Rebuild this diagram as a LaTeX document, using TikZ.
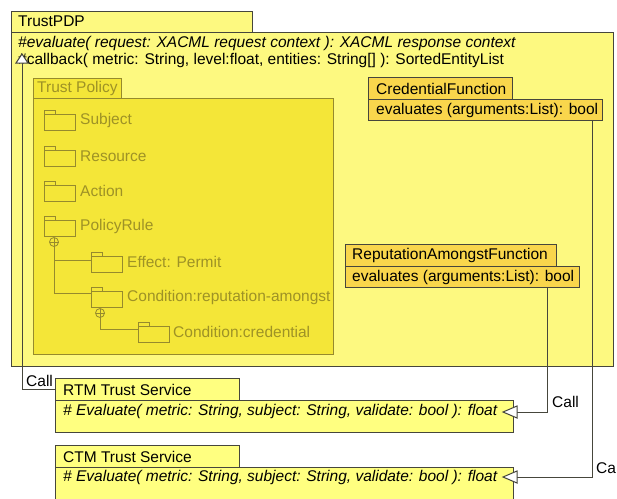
\documentclass[tikz,border=0pt]{standalone}
\usepackage{fontspec}
\setmainfont{Liberation Sans}
\usetikzlibrary{arrows.meta}
\definecolor{pdpfill}{RGB}{253,249,128}
\definecolor{policyfill}{RGB}{244,230,56}
\definecolor{funcfill}{RGB}{249,214,76}
\definecolor{svcfill}{RGB}{255,255,128}
\definecolor{bordergray}{RGB}{70,70,60}
\definecolor{olive}{RGB}{158,146,38}
\definecolor{oliveline}{RGB}{150,138,45}
\tikzset{
  base/.style={font=\fontsize{15.5}{18}\selectfont},
  txt/.style={base, anchor=west, inner sep=0pt, text=black},
  otxt/.style={txt, text=olive},
  rect/.style={draw=bordergray, line width=0.9pt, anchor=north west, inner sep=0pt, outer sep=0pt},
  orect/.style={draw=oliveline, line width=0.9pt, anchor=north west, inner sep=0pt, outer sep=0pt},
  folderline/.style={draw=oliveline, line width=0.8pt},
  treeline/.style={draw=oliveline, line width=0.8pt},
  conn/.style={draw=bordergray, line width=0.9pt},
  tri/.style={draw=bordergray, line width=1pt, fill=white, line join=miter},
  folder/.pic={
    \draw[folderline] (0,0) rectangle (11,4);
    \draw[folderline] (0,4) rectangle (31,20);
  },
}
\begin{document}
\begin{tikzpicture}[x=1pt,y=-1pt]
\useasboundingbox (0,0) rectangle (617,498);
\fill[white] (0,0) rectangle (617,498);

% TrustPDP
\node[rect, fill=pdpfill, minimum width=241pt, minimum height=21pt] (pdptab) at (11,11) {};
\node[rect, fill=pdpfill, minimum width=602pt, minimum height=334pt] (pdp) at (11,32) {};
\node[txt] (pdpname) at (18,21.5) {TrustPDP};
\node[txt] (pdpop1) at (18,43.5) {\itshape \#evaluate( request: XACML request context ): XACML response context};
\node[txt] (pdpop2) at (18,60.5) {\#callback( metric: String, level:float, entities: String[] ): SortedEntityList};

% Trust Policy
\node[orect, fill=policyfill, minimum width=88pt, minimum height=20pt] (poltab) at (33,78) {};
\node[orect, fill=policyfill, minimum width=300pt, minimum height=256pt] (pol) at (33,98) {};
\node[otxt] (polname) at (37,88.5) {Trust Policy};

\pic at (44,110) {folder};
\node[otxt] (subj) at (80,120) {Subject};
\pic at (44,146) {folder};
\node[otxt] (res) at (80,156) {Resource};
\pic at (44,181) {folder};
\node[otxt] (act) at (80,191) {Action};
\pic at (44,216) {folder};
\node[otxt] (rule) at (80,226) {PolicyRule};
\pic at (91,252) {folder};
\node[otxt] (eff) at (127,261.5) {Effect: Permit};
\pic at (91,287) {folder};
\node[otxt] (condrep) at (127,297) {Condition:reputation-amongst};
\pic at (138,322) {folder};
\node[otxt] (condcred) at (173,331.5) {Condition:credential};

\draw[treeline] (54,242) circle (4.5pt);
\draw[treeline] (49.5,242) -- (58.5,242) (54,237.5) -- (54,246.5);
\draw[treeline] (54,246.5) -- (54,293) -- (91,293);
\draw[treeline] (54,260) -- (91,260);
\draw[treeline] (100,313) circle (4.5pt);
\draw[treeline] (95.5,313) -- (104.5,313) (100,308.5) -- (100,317.5);
\draw[treeline] (100,317.5) -- (100,329) -- (138,329);

% Credential function
\node[rect, fill=funcfill, minimum width=144pt, minimum height=22pt] (credtab) at (368,77) {};
\node[rect, fill=funcfill, minimum width=234pt, minimum height=21pt] (credbody) at (368,99) {};
\node[txt] (credname) at (376,88.5) {CredentialFunction};
\node[txt] (credop) at (376,110) {evaluates (arguments:List): bool};

% Reputation function
\node[rect, fill=funcfill, minimum width=211pt, minimum height=22pt] (reptab) at (345,244) {};
\node[rect, fill=funcfill, minimum width=234pt, minimum height=21pt] (repbody) at (345,266) {};
\node[txt] (repname) at (352,255.5) {ReputationAmongstFunction};
\node[txt] (repop) at (352,277) {evaluates (arguments:List): bool};

% RTM
\node[rect, fill=svcfill, minimum width=184pt, minimum height=22pt] (rtmtab) at (55,378) {};
\node[rect, fill=svcfill, minimum width=458pt, minimum height=32pt] (rtmbody) at (55,400) {};
\node[txt] (rtmname) at (63,389.5) {RTM Trust Service};
\node[txt] (rtmop) at (63,411) {\itshape \# Evaluate( metric: String, subject: String, validate: bool ): float};

% CTM
\node[rect, fill=svcfill, minimum width=184pt, minimum height=22pt] (ctmtab) at (55,445) {};
\node[rect, fill=svcfill, minimum width=458pt, minimum height=50pt] (ctmbody) at (55,467) {};
\node[txt] (ctmname) at (63,456.5) {CTM Trust Service};
\node[txt] (ctmop) at (63,477) {\itshape \# Evaluate( metric: String, subject: String, validate: bool ): float};

% connectors
\coordinate (pdptip) at (22,54);
\coordinate (pdpbase) at (22,63);
\coordinate (repout) at (547,287);
\coordinate (credout) at (592,120);
\coordinate (rtmtip) at (503,412);
\coordinate (rtmbase) at (517,412);
\coordinate (ctmtip) at (503,477);
\coordinate (ctmbase) at (517,477);

\draw[conn] (rtmtab.west) -| (pdpbase);
\draw[tri] (pdptip) -- ([xshift=6pt]pdpbase) -- ([xshift=-6pt]pdpbase) -- cycle;
\node[txt] (call1) at (26,381) {Call};
\draw[conn] (repout) |- (rtmbase);
\draw[tri] (rtmtip) -- ([yshift=6pt]rtmbase) -- ([yshift=-6pt]rtmbase) -- cycle;
\node[txt] (call2) at (552,402) {Call};
\draw[conn] (credout) |- (ctmbase);
\draw[tri] (ctmtip) -- ([yshift=6pt]ctmbase) -- ([yshift=-6pt]ctmbase) -- cycle;
\node[txt] (call3) at (596,468) {Call};
\end{tikzpicture}
\end{document}
